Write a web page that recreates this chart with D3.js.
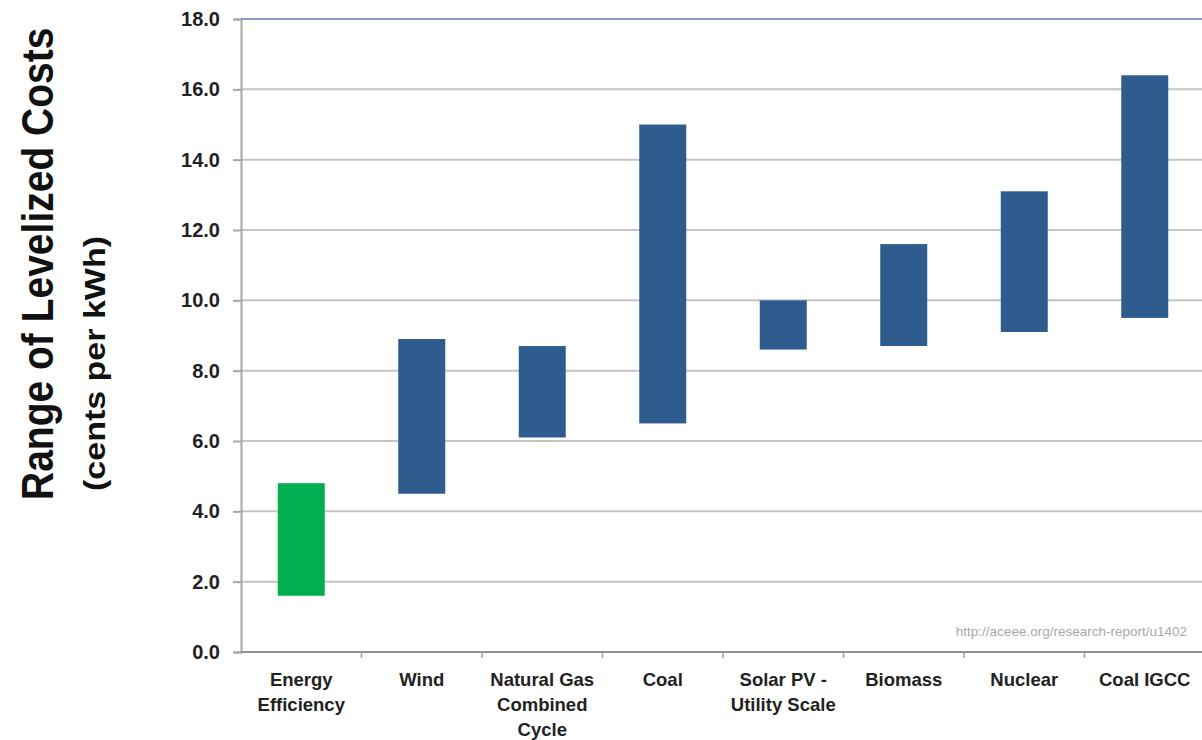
<!DOCTYPE html>
<html>
<head>
<meta charset="utf-8">
<script src="https://cdn.jsdelivr.net/npm/d3@7"></script>
<style>
  html, body { margin: 0; padding: 0; background: #ffffff; overflow: hidden; }
  svg { display: block; }
</style>
</head>
<body>
<svg id="chart" width="1202" height="740"></svg>
<script>
// Levelized cost ranges, cents per kWh
const categories = [
  ["Energy", "Efficiency"],
  ["Wind"],
  ["Natural Gas", "Combined", "Cycle"],
  ["Coal"],
  ["Solar PV -", "Utility Scale"],
  ["Biomass"],
  ["Nuclear"],
  ["Coal IGCC"]
];
const lowValues  = [1.6, 4.5, 6.1, 6.5, 8.6, 8.7, 9.1, 9.5];
const highValues = [4.8, 8.9, 8.7, 15.0, 10.0, 11.6, 13.1, 16.4];
const barColors  = ["#00b050", "#2e5c8e", "#2e5c8e", "#2e5c8e", "#2e5c8e", "#2e5c8e", "#2e5c8e", "#2e5c8e"];
const yTicks = [0, 2, 4, 6, 8, 10, 12, 14, 16, 18];
const sourceNote = "http://aceee.org/research-report/u1402";

const svg = d3.select("#chart");
const plot = { left: 241, right: 1205, top: 19, bottom: 652 };

const keys = categories.map((c, i) => i);
const x = d3.scaleBand().domain(keys).range([plot.left, plot.right]).padding(0);
const y = d3.scaleLinear().domain([0, 18]).range([plot.bottom, plot.top]);
const barW = x.bandwidth() * 0.39;

// horizontal gridlines
svg.append("g")
  .selectAll("line")
  .data(yTicks.filter(t => t > 0))
  .join("line")
  .attr("x1", plot.left).attr("x2", plot.right)
  .attr("y1", d => y(d)).attr("y2", d => y(d))
  .attr("stroke", d => d === 18 ? "#8a98bf" : "#c4c4c4")
  .attr("stroke-width", 2);

// range bars
svg.append("g")
  .selectAll("rect")
  .data(keys)
  .join("rect")
  .attr("x", i => x(i) + x.bandwidth() / 2 - barW / 2)
  .attr("width", barW)
  .attr("y", i => y(highValues[i]))
  .attr("height", i => y(lowValues[i]) - y(highValues[i]))
  .attr("fill", i => barColors[i]);

// y axis
const yAxis = svg.append("g")
  .attr("transform", `translate(${plot.left},0)`)
  .call(d3.axisLeft(y).tickValues(yTicks).tickFormat(d3.format(".1f")).tickSize(8).tickPadding(13));
yAxis.select(".domain").attr("stroke", "#a6a6a6").attr("stroke-width", 2);
yAxis.selectAll(".tick line").attr("stroke", "#a6a6a6").attr("stroke-width", 2);
yAxis.selectAll(".tick text")
  .attr("fill", "#222")
  .style("font-family", "Liberation Sans, Arial, sans-serif")
  .style("font-weight", "bold")
  .style("font-size", "20px");

// x axis baseline and boundary ticks
const xAxis = svg.append("g")
  .attr("transform", `translate(0,${plot.bottom})`);
xAxis.append("line")
  .attr("x1", plot.left).attr("x2", plot.right)
  .attr("stroke", "#909090").attr("stroke-width", 2);
xAxis.selectAll("line.tk")
  .data(keys.slice(1))
  .join("line")
  .attr("class", "tk")
  .attr("x1", i => x(i)).attr("x2", i => x(i))
  .attr("y1", 0).attr("y2", 6)
  .attr("stroke", "#a0a0a0").attr("stroke-width", 1.5);

// category labels
const catLabels = xAxis.selectAll("text.cat")
  .data(keys)
  .join("text")
  .attr("class", "cat")
  .attr("x", i => x(i) + x.bandwidth() / 2)
  .attr("y", 34)
  .attr("text-anchor", "middle")
  .attr("fill", "#222")
  .style("font-family", "Liberation Sans, Arial, sans-serif")
  .style("font-weight", "bold")
  .style("font-size", "18.5px");
catLabels.selectAll("tspan")
  .data(i => categories[i].map((t, k) => ({ t, k, i })))
  .join("tspan")
  .attr("x", d => x(d.i) + x.bandwidth() / 2)
  .attr("dy", d => d.k === 0 ? 0 : 25)
  .text(d => d.t);

// axis titles: tall condensed lettering via a cross-axis scale
svg.append("text")
  .attr("transform", "translate(53,500) rotate(-90) scale(1,1.13)")
  .attr("text-anchor", "start")
  .attr("fill", "#111")
  .style("font-family", "Liberation Sans, Arial, sans-serif")
  .style("font-weight", "bold")
  .style("font-size", "39px")
  .text("Range of Levelized Costs");
svg.append("text")
  .attr("transform", "translate(105,491) rotate(-90) scale(1,0.88)")
  .attr("text-anchor", "start")
  .attr("fill", "#111")
  .style("font-family", "Liberation Sans, Arial, sans-serif")
  .style("font-weight", "bold")
  .style("font-size", "34px")
  .text("(cents per kWh)");

// source note
svg.append("text")
  .attr("x", 1187).attr("y", 636)
  .attr("text-anchor", "end")
  .attr("fill", "#a8a8a8")
  .style("font-family", "Liberation Sans, Arial, sans-serif")
  .style("font-size", "13.5px")
  .text(sourceNote);
</script>
</body>
</html>
